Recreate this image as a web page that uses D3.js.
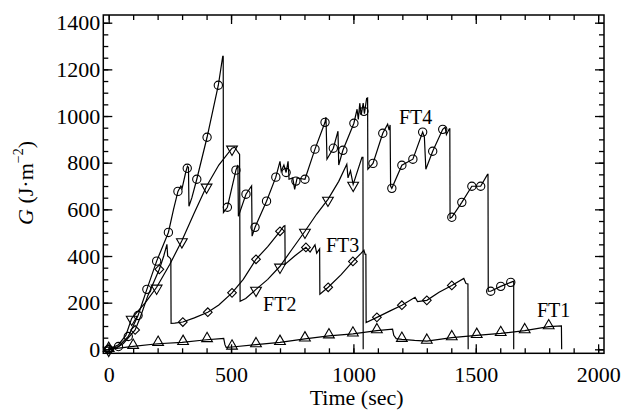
<!DOCTYPE html>
<html><head><meta charset="utf-8">
<script src="https://cdn.jsdelivr.net/npm/d3@7"></script>
<style>
body{margin:0;background:#fff}
svg{display:block}
text{font-family:'Liberation Serif',serif;fill:#000}
</style>
</head><body>
<svg id="c" width="623" height="416"></svg>
<script>
// ---------- data (time in s, G in J·m^-2) ----------
const xMajorTicks = [0, 500, 1000, 1500, 2000];
const yMajorTicks = [0, 200, 400, 600, 800, 1000, 1200, 1400];
const xMinorTicks = d3.range(0, 2001, 100);
const yMinorTicks = d3.range(0, 1401, 50);

const ft1Line = [[0,0],[100,13],[200,24],[300,30],[400,41],[460,46],[470,47],[475,20],[480,8],[504,10],[602,20],[700,30],[802,45],[900,58],[998,66],[1096,80],[1160,86],[1165,60],[1175,46],[1198,43],[1250,38],[1300,35],[1402,50],[1504,60],[1602,68],[1700,80],[1798,97],[1850,100],[1851,0]];
const ft1Marks = [[0,0],[100,13],[202,26],[304,30],[402,42],[504,10],[602,20],[700,30],[802,45],[900,58],[998,66],[1096,80],[1198,43],[1300,35],[1402,50],[1504,60],[1602,68],[1700,80],[1798,97]];

const ft2Line = [[0,0],[40,20],[70,60],[94,133],[150,200],[196,266],[250,365],[299,465],[350,585],[400,699],[450,790],[504,862],[515,866],[525,850],[535,835],[537,206],[560,218],[602,257],[650,300],[700,356],[750,430],[802,506],[850,580],[896,643],[940,720],[973,793],[978,735],[988,765],[999,707],[1035,823],[1039,823],[1040,0]];
const ft2Marks = [[0,0],[94,133],[196,266],[299,465],[400,699],[504,862],[602,257],[700,356],[802,506],[896,643],[999,707]];

const ft3Line = [[0,0],[30,5],[60,25],[108,83],[130,140],[160,230],[207,343],[225,400],[238,450],[241,400],[250,392],[254,386],[255,111],[270,112],[303,117],[350,135],[405,159],[450,190],[504,242],[550,300],[602,386],[650,440],[700,506],[715,528],[720,530],[721,365],[760,400],[806,437],[823,417],[843,448],[850,412],[862,430],[863,236],[897,266],[950,320],[998,377],[1030,410],[1043,425],[1048,407],[1051,407],[1052,115],[1096,137],[1150,165],[1198,189],[1252,223],[1262,205],[1300,210],[1350,245],[1402,274],[1451,304],[1460,282],[1468,280],[1469,0]];
const ft3Marks = [[0,0],[108,83],[207,343],[303,117],[405,159],[504,242],[602,386],[700,506],[806,437],[897,266],[998,377],[1096,137],[1198,189],[1300,210],[1402,274]];

const ft4Line = [[0,0],[40,12],[80,55],[120,145],[156,257],[196,378],[244,501],[265,600],[283,677],[295,700],[300,690],[315,760],[322,785],[326,780],[328,613],[340,650],[360,729],[402,909],[448,1132],[466,1256],[468,1256],[469,587],[485,609],[520,768],[528,790],[530,570],[561,665],[584,700],[586,485],[598,523],[645,635],[683,738],[700,806],[705,763],[716,790],[725,758],[733,806],[737,729],[752,735],[760,686],[770,735],[802,729],[843,858],[884,973],[888,995],[892,815],[918,862],[937,935],[940,790],[957,853],[1002,969],[1015,1029],[1020,985],[1026,1055],[1032,1005],[1040,1055],[1045,1010],[1054,1076],[1058,1078],[1059,772],[1080,797],[1120,926],[1140,965],[1146,940],[1150,962],[1152,700],[1157,690],[1198,789],[1243,815],[1283,931],[1290,910],[1296,772],[1324,849],[1365,943],[1375,952],[1380,920],[1392,945],[1394,945],[1395,562],[1402,566],[1443,630],[1484,699],[1520,699],[1548,750],[1550,750],[1551,249],[1561,249],[1602,270],[1643,287],[1655,292],[1655,0]];
const ft4Marks = [[0,0],[40,12],[80,55],[120,145],[156,257],[196,378],[244,501],[283,677],[321,776],[360,729],[402,909],[448,1132],[485,609],[520,768],[561,665],[598,523],[645,635],[683,738],[725,758],[765,721],[802,729],[843,858],[884,973],[918,862],[957,853],[1002,969],[1043,1020],[1080,797],[1120,926],[1157,690],[1198,789],[1243,815],[1283,931],[1324,849],[1365,943],[1402,566],[1443,630],[1484,699],[1520,699],[1561,249],[1602,270],[1643,287]];

const seriesNames = ["FT1", "FT2", "FT3", "FT4"];
const labelPos = [[1750,139],[631,164],[888,417],[1186,966]]; // data coords of label baselines

// ---------- layout ----------
const svg = d3.select("#c");
const L = 103.3, R = 604, T = 15, B = 353.3;
const x = d3.scaleLinear().domain([-22, 2024]).range([L, R]);
const y = d3.scaleLinear().domain([-17, 1433]).range([B, T]);
const FONT = "'Liberation Serif', serif";

function styleAxis(g, size){
  g.select(".domain").remove();
  g.attr("font-family", FONT).attr("font-size", size);
  g.selectAll("line").attr("stroke", "#000").attr("stroke-width", 1.3);
  g.selectAll("text").attr("fill", "#000");
}
const MAJ = 9, MIN = 5;
// bottom
svg.append("g").attr("transform", `translate(0,${B})`)
  .call(d3.axisBottom(x).tickValues(xMinorTicks).tickSize(-MIN).tickFormat(""))
  .call(g => styleAxis(g, 22));
svg.append("g").attr("transform", `translate(0,${B})`)
  .call(d3.axisBottom(x).tickValues(xMajorTicks).tickSize(-MAJ).tickPadding(13).tickFormat(d3.format("d")))
  .call(g => styleAxis(g, 22));
// top
svg.append("g").attr("transform", `translate(0,${T})`)
  .call(d3.axisTop(x).tickValues(xMinorTicks).tickSize(-MIN).tickFormat(""))
  .call(g => styleAxis(g, 22));
svg.append("g").attr("transform", `translate(0,${T})`)
  .call(d3.axisTop(x).tickValues(xMajorTicks).tickSize(-MAJ).tickFormat(""))
  .call(g => styleAxis(g, 22));
// left
svg.append("g").attr("transform", `translate(${L},0)`)
  .call(d3.axisLeft(y).tickValues(yMinorTicks).tickSize(-MIN).tickFormat(""))
  .call(g => styleAxis(g, 22));
svg.append("g").attr("transform", `translate(${L},0)`)
  .call(d3.axisLeft(y).tickValues(yMajorTicks).tickSize(-MAJ).tickPadding(3).tickFormat(d3.format("d")))
  .call(g => styleAxis(g, 22));
// right
svg.append("g").attr("transform", `translate(${R},0)`)
  .call(d3.axisRight(y).tickValues(yMinorTicks).tickSize(-MIN).tickFormat(""))
  .call(g => styleAxis(g, 22));
svg.append("g").attr("transform", `translate(${R},0)`)
  .call(d3.axisRight(y).tickValues(yMajorTicks).tickSize(-MAJ).tickFormat(""))
  .call(g => styleAxis(g, 22));

// frame
svg.append("rect").attr("x", L).attr("y", T).attr("width", R - L).attr("height", B - T)
  .attr("fill", "none").attr("stroke", "#000").attr("stroke-width", 1.5);

// ---------- series ----------
const line = d3.line().x(d => x(d[0])).y(d => y(d[1]));
const plot = svg.append("g");
const lines = [ft1Line, ft2Line, ft3Line, ft4Line];
const marks = [ft1Marks, ft2Marks, ft3Marks, ft4Marks];
const symbols = [
  {type: d3.symbolTriangle, size: 50, rot: 0},
  {type: d3.symbolTriangle, size: 50, rot: 180},
  {type: d3.symbolSquare, size: 38, rot: 45},
  {type: d3.symbolCircle, size: 54, rot: 0}
];
lines.forEach((ln, i) => {
  plot.append("path").datum(ln).attr("d", line)
    .attr("fill", "none").attr("stroke", "#000").attr("stroke-width", 1.2)
    .attr("stroke-linejoin", "miter");
});
marks.forEach((mk, i) => {
  const s = symbols[i];
  const sym = d3.symbol().type(s.type).size(s.size);
  plot.selectAll(null).data(mk).join("path")
    .attr("d", sym)
    .attr("transform", d => `translate(${x(d[0])},${y(d[1]) + (i===0 ? -1 : i===1 ? 1 : 0)}) rotate(${s.rot})`)
    .attr("fill", "none").attr("stroke", "#000").attr("stroke-width", 1.1);
});

// series labels
svg.append("g").selectAll("text").data(seriesNames).join("text")
  .attr("x", (d, i) => x(labelPos[i][0]))
  .attr("y", (d, i) => y(labelPos[i][1]))
  .attr("font-size", 20)
  .text(d => d);

// axis titles
svg.append("text").attr("x", (L + R) / 2 + 3).attr("y", 405)
  .attr("text-anchor", "middle").attr("font-size", 22).text("Time (sec)");

const yt = svg.append("text").attr("transform", "translate(33,183) rotate(-90)")
  .attr("text-anchor", "middle").attr("font-size", 22);
yt.append("tspan").attr("font-style", "italic").text("G");
yt.append("tspan").text(" (J·m");
yt.append("tspan").attr("font-size", 14).attr("dy", -10).text("−2");
yt.append("tspan").attr("dy", 10).text(")");
</script>
</body></html>
